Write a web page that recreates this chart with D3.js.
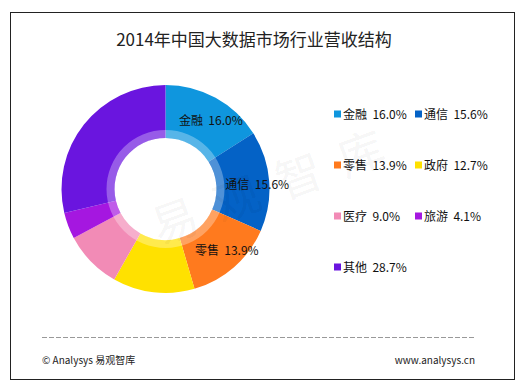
<!DOCTYPE html>
<html><head><meta charset="utf-8">
<script src="https://cdn.jsdelivr.net/npm/d3@7"></script>
<style>body{margin:0;background:#fff;}svg{display:block;font-family:"Noto Sans CJK SC","Noto Sans",sans-serif;}</style>
</head><body>
<svg id="c" width="521" height="386"></svg>
<script>
const categories = ["金融","通信","零售","政府","医疗","旅游","其他"];
const values = [16.0, 15.6, 13.9, 12.7, 9.0, 4.1, 28.7];
const colors = ["#0f96de","#0462c6","#ff7a1e","#ffe100","#f28bb6","#a517e0","#6a15df"];
const sliceLabels = [true, true, true, false, false, false, false];
const title = "2014年中国大数据市场行业营收结构";
const watermark = ["易","观","智","库"];

const svg = d3.select("#c");
svg.append("rect").attr("x",10.5).attr("y",12.5).attr("width",504).attr("height",367)
  .attr("fill","#fff").attr("stroke","#222").attr("stroke-width",1);

svg.append("text").attr("x",254).attr("y",46).attr("text-anchor","middle")
  .attr("font-size",17).attr("fill","#222").text(title);

const cx = 165.5, cy = 189, R = 104, r0 = 51, rRing = 59;
const data = categories.map((c,i)=>({name:c,value:values[i],color:colors[i],label:sliceLabels[i]}));
const pie = d3.pie().value(d=>d.value).sort(null);
const arcs = pie(data);
const arc = d3.arc().innerRadius(r0).outerRadius(R);
const g = svg.append("g").attr("transform",`translate(${cx},${cy})`);
g.selectAll("path.s").data(arcs).join("path").attr("class","s")
  .attr("d",arc).attr("fill",d=>d.data.color);
g.append("path").attr("d",d3.arc().innerRadius(r0).outerRadius(rRing).startAngle(0).endAngle(2*Math.PI)())
  .attr("fill","#fff").attr("fill-opacity",0.3);

// watermark
const wm = svg.append("g").attr("transform","translate(159,245) rotate(-20)");
wm.selectAll("text").data(watermark).join("text")
  .attr("x",(d,i)=>i*66).attr("y",0).attr("font-size",46)
  .attr("fill","#000").attr("fill-opacity",0.055).text(d=>d);

const mid = d => (d.startAngle + d.endAngle) / 2;
g.selectAll("text.l").data(arcs.filter(d=>d.data.label)).join("text").attr("class","l")
  .attr("x",d=>90*Math.sin(mid(d))+2).attr("y",d=>-80*Math.cos(mid(d))+6)
  .attr("text-anchor","middle").attr("font-size",12).attr("fill","#111")
  .style("white-space","pre")
  .text(d=>`${d.data.name}  ${d.data.value.toFixed(1)}%`);

// legend
const lg = svg.append("g");
const items = lg.selectAll("g").data(data).join("g")
  .attr("transform",(d,i)=>`translate(${334 + (i%2)*81},${114 + Math.floor(i/2)*51})`);
items.append("rect").attr("x",0).attr("y",-3.5).attr("width",7).attr("height",7).attr("fill",d=>d.color);
items.append("text").attr("x",9).attr("y",4.5).attr("font-size",12).attr("fill","#111")
  .style("white-space","pre").text(d=>`${d.name}  ${d.value.toFixed(1)}%`);

// footer
svg.append("line").attr("x1",42).attr("x2",475).attr("y1",337.5).attr("y2",337.5)
  .attr("stroke","#999").attr("stroke-dasharray","5,2");
svg.append("text").attr("x",42).attr("y",364).attr("font-size",10).attr("fill","#222").text("© Analysys 易观智库");
svg.append("text").attr("x",475).attr("y",364).attr("text-anchor","end").attr("font-size",10).attr("fill","#222").text("www.analysys.cn");
</script>
</body></html>
